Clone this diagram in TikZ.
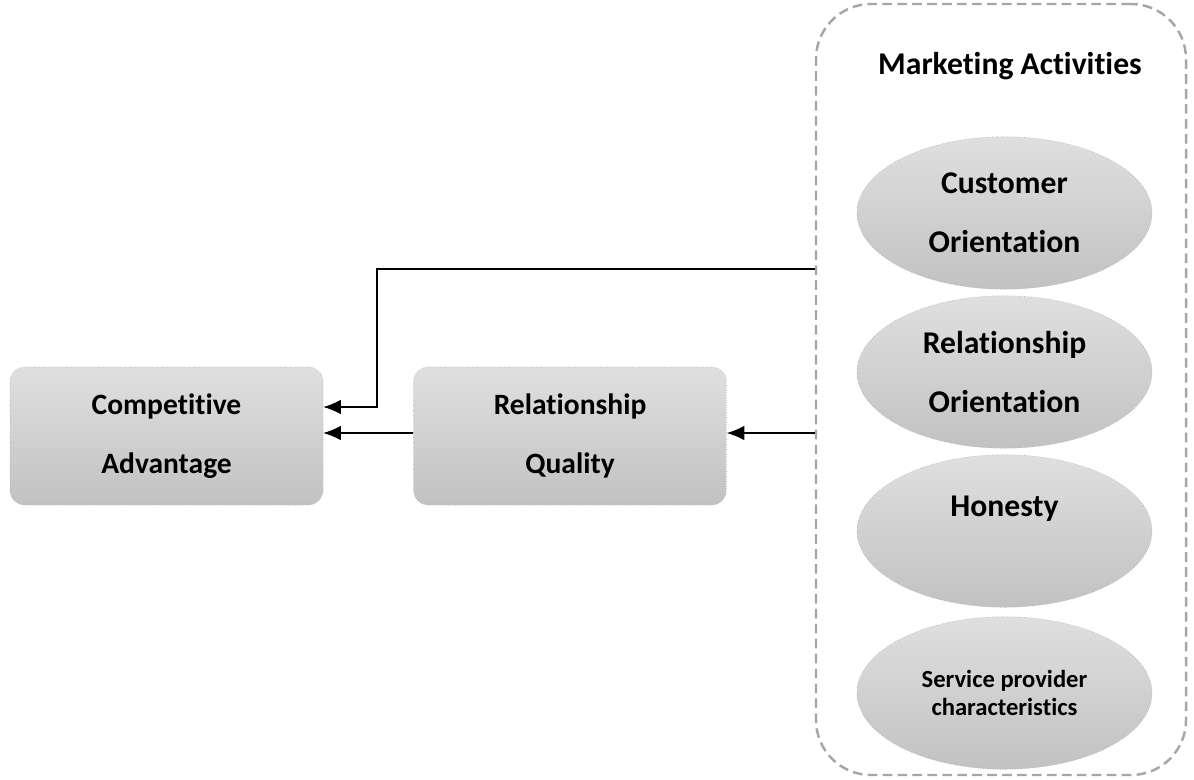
\documentclass[tikz,border=0pt]{standalone}
\usepackage{fontspec}
\setmainfont{Carlito}[Ligatures={NoCommon,NoContextual}]
\usetikzlibrary{shapes.geometric,arrows.meta}
\tikzset{
  factor/.style={rectangle,rounded corners=0.3cm,draw=gray!60,densely dotted,line width=0.4pt,
    top color=gray!25,bottom color=gray!48,minimum width=6.26cm,minimum height=2.76cm,
    align=center,font=\bfseries\fontsize{16.8}{33.5}\selectfont},
  activity/.style={ellipse,draw=gray!60,densely dotted,line width=0.4pt,
    top color=gray!25,bottom color=gray!48,minimum width=5.9cm,minimum height=3.05cm,
    inner sep=0pt,align=center,font=\bfseries\fontsize{18}{33.5}\selectfont},
  arr/.style={-{Latex[length=3.5mm,width=2.9mm]},line width=0.6pt,black},
}
\begin{document}
\begin{tikzpicture}
                    \useasboundingbox (0,0) rectangle (23.88,-15.58);
                    % group of marketing activities
                    \node[draw=gray!70,line width=1.4pt,dash pattern=on 5.5pt off 3pt,rounded corners=1.1cm,
                          minimum width=7.4cm,minimum height=15.42cm] (ma) at (20.02,-7.79) {};
                    \node[font=\bfseries\fontsize{18}{22}\selectfont] (title) at (20.2,-1.32) {Marketing Activities};
                    \node[activity] (co) at (20.09,-4.26) {Customer\\Orientation};
                    \node[activity] (ro) at (20.09,-7.44) {Relationship\\Orientation};
                    \node[activity] (ho) at (20.09,-10.62) {\raisebox{-5pt}{Honesty}\\\mbox{}};
                    \node[activity,font=\bfseries\fontsize{14}{15.6}\selectfont] (sp) at (20.09,-13.86) {Service provider\\characteristics};
                    % outcomes
                    \node[factor] (ca) at (3.33,-8.72) {Competitive\\Advantage};
                    \node[factor] (rq) at (11.4,-8.72) {Relationship\\Quality};
                    % links
                    \coordinate (tap) at (ma.west |- 0,-5.38);
                    \coordinate (bap) at (ma.west |- 0,-8.66);
                    \draw[arr] (tap) -| (7.54,-8.14) -- (ca.east |- 0,-8.14);
                    \draw[arr] (bap) -- (rq.east |- bap);
                    \draw[arr] (rq.west |- bap) -- (ca.east |- bap);
                \end{tikzpicture}
\end{document}
